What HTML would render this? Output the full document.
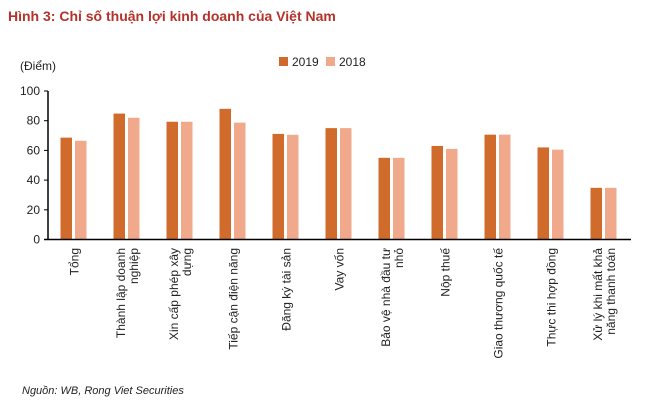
<!DOCTYPE html>
<html><head><meta charset="utf-8"><style>
body{margin:0;width:661px;height:413px;background:#fff;font-family:"Liberation Sans",sans-serif;overflow:hidden}
</style></head><body>
<svg width="661" height="413">
<text x="8" y="21" font-size="14" font-weight="bold" fill="#b5322a">Hình 3: Chỉ số thuận lợi kinh doanh của Việt Nam</text>
<text x="20" y="70" font-size="12" fill="#222">(Điểm)</text>
<g>
<rect x="279" y="57" width="9" height="9" fill="#d06b2c"/>
<text x="292" y="66" font-size="12" fill="#222">2019</text>
<rect x="326" y="57" width="9" height="9" fill="#f0a98b"/>
<text x="339" y="66" font-size="12" fill="#222">2018</text>
</g>
<g id="plot"></g>
<text x="22" y="394" font-size="11" font-style="italic" fill="#222">Nguồn: WB, Rong Viet Securities</text>
</svg>
<script>
const categories=[["Tổng"],["Thành lập doanh","nghiệp"],["Xin cấp phép xây","dựng"],["Tiếp cận điện năng"],["Đăng ký tài sản"],["Vay vốn"],["Bảo vệ nhà đầu tư","nhỏ"],["Nộp thuế"],["Giao thương quốc tế"],["Thực thi hợp đồng"],["Xử lý khi mất khả","năng thanh toán"]];
const values2019=[68.6,84.8,79.3,88,71.1,75,55,63,70.6,62,34.8];
const values2018=[66.5,82,79.3,78.7,70.5,75,55,61,70.6,60.5,34.8];
const yTicks=[0,20,40,60,80,100];
const NS="http://www.w3.org/2000/svg";
const g=document.getElementById('plot');
const x0=48,x1=631,y0=239.5,yTop=91;
const yS=v=>y0-(v/100)*(y0-yTop);
const bw=(x1-x0)/categories.length;
const xS=i=>x0+bw*i;
function el(t,a){const e=document.createElementNS(NS,t);for(const k in a)e.setAttribute(k,a[k]);g.appendChild(e);return e;}
yTicks.forEach(t=>{
 const l=el('line',{x1:x0-4,x2:x0,y1:yS(t),y2:yS(t),stroke:'#000'});
 
 
 const tx=el('text',{x:x0-8,y:yS(t)+4,'font-size':12,'text-anchor':'end',fill:'#222'});
 tx.textContent=t;
 
 
});
categories.forEach((c,i)=>{
 const cx=xS(i)+bw*0.5;
 const b1=el('rect',{x:cx-14,y:yS(values2019[i]),width:11.5,height:y0-yS(values2019[i]),fill:'#d06b2c'});
 
 
 const b2=el('rect',{x:cx+0.5,y:yS(values2018[i]),width:11.5,height:y0-yS(values2018[i]),fill:'#f0a98b'});
 
 
 const t=el('text',{transform:`translate(${cx},248) rotate(-90)`,'font-size':12,'text-anchor':'end',fill:'#222'});
 
 
 c.forEach((line,j)=>{const s=document.createElementNS(NS,'tspan');s.setAttribute('x',0);s.setAttribute('y',(j-(c.length-1)/2)*13+4);s.textContent=line;t.appendChild(s);});
});
const ax=el('line',{x1:x0,x2:x0,y1:yTop,y2:y0,stroke:'#000','stroke-width':1.5});


const xa=el('line',{x1:x0-4,x2:x1,y1:y0,y2:y0,stroke:'#000','stroke-width':1.5});


</script>
</body></html>
